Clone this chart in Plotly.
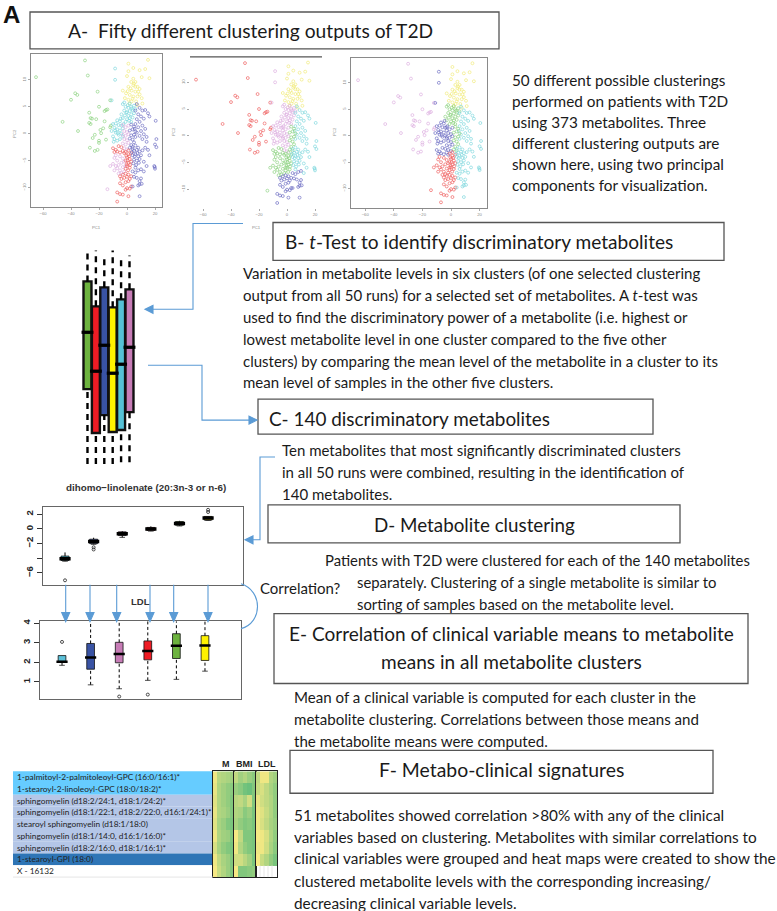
import plotly.graph_objects as go

W, H = 777, 911
RED, GREEN, BLUE, YELLOW, CYAN, PLUM = "#EE5A5A", "#88D17C", "#6666BF", "#F0EA72", "#78D5DC", "#DCACDF"

# ---- PCA scores (PC1, PC2) ----
FAR_LEFT = [(-65,10.5),(-30,13.6),(-28,10.8),(-40,6.3),(-37,7.5),(-35.5,7.2),(-21,7.8),(-46,2.2),(-35,0.5),(-20,5),
            (-27,3.9),(-12,6.2),(-15,4.4),(-16,4.2),(-14,4.5),(-26,2.9),(-25,2.8),(-27,2),(-26,1.8),(-22,2.7),(-16,2.3),
            (-11.5,1.5),(-17,1),(-19,0.7),(-18.5,0.1),(-23,-0.2),(-24.5,-0.8),(-20,-1.3),(-26.5,-2.6),(-23,-3.2),(-21,-3),
            (-20,-1.7),(-15,-1.1),(-12,1.2)]
TOP = [(1,13),(15,13.7),(4.5,12.2),(9,11.8),(1,11.6),(13,12),(0,10.7),(4.5,10.2),(10.5,10.5),(16,10.3),(6,9.6),(3,9.6),
       (-3,8),(1,8.7),(4.5,9),(7.5,8.7),(3.3,8),(6,7.8),(9,8.3),(-0.7,7.5),(2,7.2),(4.5,6.9),(7.5,6.9),(10.5,6.6),(1,6.3),
       (3.3,6),(6.5,6),(-1.5,6.6),(9,7.3),(0.5,7.9),(6,8.7),(4,6.5),(1.7,5.6),(7.5,5.3),(11,5.6),(5,9.3),(2.5,8.4),(8,7.8)]
OUTLIERS_TOP = [(-8.5,12.1),(-8.5,10),(-11,6.2)]
UPPER_MID = [(-3,5.5),(-1,5),(1,4.8),(3,5),(5,5.2),(-2,4.3),(0,4),(2,4.2),(4,4.4),(6,4.6),(-4,3.6),(-1.5,3.4),(1,3.3),(3,3.6),
             (5,3.8),(-3,2.9),(0,2.7),(2,2.9),(4,3),(-2,5.8),(2,5.6),(0.5,5.3),(3.5,4.7),(-0.5,3.9),(1.5,2.4),(-1,2.2),(3,2.2)]
LEFT_CENTER = [(-7,2.5),(-5,2.3),(-8,1.9),(-6,1.6),(-10,1.8),(-4,1.5),(-9,1.1),(-7,0.8),(-5,0.6),(-3,1),(-11,0.5),(-8,0.2),
               (-6,-0.2),(-10,-0.5),(-4,0),(-9,-1),(-7,-1.3),(-5,-1),(-3,-0.5),(-9.5,-1.5),(-8.5,0.6),(-6.5,0.1),(-2.5,1.8),(-4.5,2.8)]
RIGHT_CENTER = [(7,5.5),(9,4.8),(11,4.3),(13,4.4),(15,3.8),(6,4.3),(8,3.6),(10,3.2),(12,2.8),(7,2.7),(9,2.2),(6,1.8),(11,1.5),
                (8,1.2),(13,0.9),(5.5,0.9),(10,0.5),(7,0.2),(12,-0.1),(14,-0.6),(9,-0.4),(6,-0.6),(11,-1),(16,3.2)]
CENTER_L = [(-3,1.6),(-1,1.2),(1,1.5),(-2,0.5),(0,0.3),(-3,-0.2),(-1,-0.4),(1,-0.1),(-2,-1),(0,-1.2),(-3,-1.8),(-1,-2),(1,-1.7),
            (-2,-2.7),(0,-2.9)]
CENTER_R = [(3,1.7),(5,1.3),(2,0.6),(4,0.8),(6,0.4),(3,-0.3),(5,-0.2),(2,-0.9),(4,-1.1),(3,-2.1),(5,-1.6),(2,-2.6),(4,-2.8)]
LOWER_UP = [(-10,-2.7),(-8,-3),(-6,-2.3),(-4,-2.5),(-7,-3.3),(-5,-3.5),(-9,-3.4),(-3,-3.2),(-2,-3.6)]
LOWER_LOW = [(-12,-6),(-9,-4.5),(-7,-5),(-5,-4.2),(-3,-4.6),(-10,-5.6),(-8,-6),(-6,-5.8),(-4,-5.4),(-2,-5.2),(-9,-6.8),(-7,-6.4),
             (-5,-6.8),(-3,-6.2),(-1,-6),(-6,-7.4),(-4,-7.3),(-2,-7),(-8,-4),(-14,-10.3)]
CENTER_LOW = [(-1,-3.4),(1,-3.8),(3,-3.6),(0,-4.4),(2,-4.7),(-1,-5),(1,-5.4),(3,-5.2),(0,-6),(2,-6.3),(-1,-6.5),(1,-3.1),
              (-0.5,-4.1),(0.5,-5),(1.5,-4.2),(-0.2,-5.7),(0.8,-6.8),(2.2,-5.8)]
LOWER_RIGHT = [(4,-2.5),(6,-2.2),(8,-2.6),(5,-3.2),(7,-3),(9,-3.3),(11,-3.1),(4,-4),(6,-3.8),(8,-4.2),(10,-4),(5,-4.8),(7,-5),
               (9,-4.7),(4.5,-5.5),(6.5,-5.8),(8.5,-5.4),(12,-5.2),(3.5,-3.4),(5.5,-4.2),(7.5,-3.6),(6,-6.3)]
BOTTOM = [(-7,-10.9),(-5,-11.2),(-7,-12.6),(-3,-11.3),(1,-11.6),(-1,-10.4),(0,-10.1),(2,-10.2),(3,-9.8),(-3,-9.6),(-5,-9.2),(-1,-9),
          (1,-8.8),(-4,-8.4),(-2,-8.2),(0,-8),(2,-8.4),(-3,-7.6),(-1,-7.4),(1,-7.6),(3,-7.9),(-5,-7.9)]
LOW_RIGHT = [(4,-7),(6,-7.2),(8,-6.8),(10,-6.6),(5,-8),(7,-8.2),(9,-9.4),(10.5,-9.3),(8,-9.6),(9,-8.8),(10,-8.3),(4,-9.8),(9,-11.6)]
FAR_RIGHT = [(20.5,2.4),(21,-1),(20,-2),(21,-2.5),(19.5,-6),(20,-6.5),(19.8,-6.2),(15,-3),(14,-1.5),(13,-2.6),(16,-4),(14,-6),(12,-7)]

# cluster colour of each point group in panels 1, 2 and 3
SCATTER_GROUPS = [
    (FAR_LEFT, GREEN, RED, PLUM), (OUTLIERS_TOP, CYAN, PLUM, BLUE), (TOP, YELLOW, YELLOW, YELLOW),
    (UPPER_MID, CYAN, PLUM, GREEN), (LEFT_CENTER, CYAN, PLUM, BLUE), (RIGHT_CENTER, BLUE, CYAN, CYAN),
    (CENTER_L, PLUM, PLUM, BLUE), (CENTER_R, BLUE, GREEN, GREEN), (LOWER_UP, RED, GREEN, BLUE),
    (LOWER_LOW, PLUM, GREEN, RED), (CENTER_LOW, RED, GREEN, RED), (LOWER_RIGHT, BLUE, CYAN, CYAN),
    (BOTTOM, RED, BLUE, RED), (LOW_RIGHT, BLUE, BLUE, CYAN), (FAR_RIGHT, BLUE, CYAN, CYAN),
]

# ---- Stylised box plot (panel B) ----
B_COLORS = ["#6DB33F", "#EE1C25", "#3953A4", "#FFF200", "#55C1D6", "#C77CB6"]
B_Q1 = [-1.52, -3.28, -2.56, -3.24, -3.16, -2.44]
B_MED = [0.76, -0.8, 0.24, -0.88, -0.52, 0.16]
B_Q3 = [2.8, 1.8, 2.56, 1.76, 2.08, 2.48]
B_LOW = [-4.52, -4.52, -4.52, -4.52, -4.45, -4.45]
B_HIGH = [4.04, 4.04, 3.84, 4.04, 3.84, 3.84]

# ---- dihomo-linolenate box plot ----
D_COLORS = ["#4FB7C9", "#3953A4", "#C77CB6", "#EE1C25", "#6DB33F", "#FFF200"]
D_Q1 = [-4.3, -2.0, -0.9, -0.2, 0.5, 1.2]
D_MED = [-4.05, -1.7, -0.65, 0.0, 0.75, 1.5]
D_Q3 = [-3.7, -1.4, -0.4, 0.2, 1.0, 1.7]
D_LOW = [-4.4, -2.1, -1.15, -0.3, 0.4, 1.15]
D_HIGH = [-3.2, -1.2, -0.3, 0.35, 1.1, 1.75]
D_OUT_X = [1, 2, 2, 6, 6]
D_OUT_Y = [-7.0, -2.5, -2.8, 2.3, 2.6]

# ---- LDL box plot ----
L_COLORS = ["#5BC0D8", "#3953A4", "#C77CB6", "#EE1C25", "#6DB33F", "#FFF200"]
L_Q1 = [2.0, 1.65, 1.98, 2.13, 2.2, 2.1]
L_MED = [2.03, 2.25, 2.43, 2.58, 2.85, 2.87]
L_Q3 = [2.35, 2.97, 3.03, 3.1, 3.47, 3.37]
L_LOW = [1.85, 0.85, 0.65, 1.08, 1.13, 1.55]
L_HIGH = [2.35, 4.1, 4.1, 4.1, 4.1, 4.1]
L_OUT_X = [1, 3, 4]
L_OUT_Y = [3.05, 0.25, 0.35]

# ---- Heat map ----
ROWS = ["1-palmitoyl-2-palmitoleoyl-GPC (16:0/16:1)*", "1-stearoyl-2-linoleoyl-GPC (18:0/18:2)*",
        "sphingomyelin (d18:2/24:1, d18:1/24:2)*", "sphingomyelin (d18:1/22:1, d18:2/22:0, d16:1/24:1)*",
        "stearoyl sphingomyelin (d18:1/18:0)", "sphingomyelin (d18:1/14:0, d16:1/16:0)*",
        "sphingomyelin (d18:2/16:0, d18:1/16:1)*", "1-stearoyl-GPI (18:0)", "X - 16132"]
ROW_BG = ["#66CCFF", "#66CCFF", "#B4C6E7", "#B4C6E7", "#B4C6E7", "#B4C6E7", "#B4C6E7", "#2E75B6", "#FFFFFF"]
HEAT_M = [[.1,.45,.5,.55,.6],[.15,.5,.6,.7,.75],[.2,.5,.6,.7,.8],[.15,.5,.55,.65,.8],[.2,.55,.65,.8,.85],
          [.1,.5,.6,.65,.8],[.25,.55,.7,.8,.85],[.1,.4,.55,.65,.8],[.05,.35,.5,.65,.8]]
HEAT_BMI = [[.4,.6,.5,.65,.75],[.65,.75,.9,.95,.8],[.45,.4,.55,.3,.8],[.5,.55,.75,.65,.85],[.55,.7,.8,.75,.85],
            [.05,.4,.8,.8,.85],[.1,.5,.7,.8,.85],[.3,.3,.45,.6,.85],[.05,.8,.8,.75,.7]]
HEAT_LDL = [[.4,.1,.1,.5,.6],[.35,.25,.4,.55,.7],[.15,.3,.4,.5,.7],[.1,.2,.35,.5,.7],[.1,.25,.4,.55,.65],
            [.05,.1,.25,.5,.7],[.1,.1,.3,.55,.75],[.05,.35,.5,.7,.85],[None]*5]

FONT = "Lato"
fig = go.Figure()
layout_axes = {}
TEXTS, SHAPES = [], []


def fx(x): return x / W
def fy(y): return 1 - y / H


def axes(i, l, r, t, b, xr, yr, **kw):
    xa = dict(domain=[fx(l), fx(r)], anchor=f"y{i}", range=xr, zeroline=False, showgrid=False)
    ya = dict(domain=[fy(b), fy(t)], anchor=f"x{i}", range=yr, zeroline=False, showgrid=False)
    xa.update(kw.get("x", {})); ya.update(kw.get("y", {}))
    layout_axes[f"xaxis{i}"] = xa
    layout_axes[f"yaxis{i}"] = ya


def text(x, y, s, size=15, anchor="left", color="#1a1a1a", fam=FONT, bold=False, angle=0):
    if bold: s = f"<b>{s}</b>"
    if anchor == "left": x -= 2
    TEXTS.append(dict(x=fx(x), y=fy(y), xref="paper", yref="paper", text=s, showarrow=False, xanchor=anchor,
                      yanchor="middle", align=anchor, textangle=angle, font=dict(family=fam, size=size, color=color)))


def rect(l, t, r, b, line="#555555", lw=1.3, fill=None, layer="above"):
    SHAPES.append(dict(type="rect", xref="paper", yref="paper", x0=fx(l), x1=fx(r), y0=fy(b), y1=fy(t),
                       line=dict(color=line, width=lw), fillcolor=fill, layer=layer))


ARROW = "#5B9BD5"


def poly(pts, fill=False, lw=1.1):
    d = "M " + " L ".join(f"{fx(x):.5f} {fy(y):.5f}" for x, y in pts) + (" Z" if fill else "")
    SHAPES.append(dict(type="path", xref="paper", yref="paper", path=d,
                       line=dict(color=ARROW, width=lw), fillcolor=ARROW if fill else None))


# ---- scatter panels ----
tick_small = dict(size=4.2, color="#8a8a8a", family="Liberation Sans")
panels = [
    (1, 31, 162, 52, 205, 127, 1.40, 132, 5.40, True),
    (2, 190, 322, 55, 206, 287, 1.40, 134, 5.35, False),
    (3, 351, 487, 56, 206, 451, 1.43, 134, 5.30, True),
]
for i, l, r, t, b, x0, sx, y0, sy, frame_on in panels:
    xr = [(l - x0) / sx, (r - x0) / sx]
    yr = [(y0 - b) / sy, (y0 - t) / sy]
    axes(i, l, r, t, b, xr, yr,
         x=dict(tickvals=[-60, -40, -20, 0, 20], ticks="outside", ticklen=2, tickwidth=0.5, tickcolor="#aaaaaa",
                tickfont=tick_small, showline=frame_on, mirror=frame_on, linecolor="#8a8a8a", linewidth=1.2),
         y=dict(tickvals=[-10, -5, 0, 5, 10], ticks="outside", ticklen=2, tickwidth=0.5, tickcolor="#aaaaaa",
                tickfont=tick_small, tickangle=-90, showline=frame_on, mirror=frame_on, linecolor="#8a8a8a", linewidth=1.2))
    for grp in SCATTER_GROUPS:
        fig.add_trace(go.Scatter(x=[p[0] for p in grp[0]], y=[p[1] for p in grp[0]], mode="markers", xaxis=f"x{i}",
                                 yaxis=f"y{i}", showlegend=False, cliponaxis=True,
                                 marker=dict(symbol="circle-open", size=2.9, color=grp[i], line=dict(width=0.65))))
SHAPES.append(dict(type="line", xref="paper", yref="paper", x0=fx(190), x1=fx(322), y0=fy(55), y1=fy(55),
                   line=dict(color="#555555", width=1.2)))
text(96, 226, "PC1", 4.2, "center", "#8a8a8a", "Liberation Sans")
text(256, 226, "PC1", 4.2, "center", "#8a8a8a", "Liberation Sans")
text(15, 132, "PC2", 4.2, "center", "#8a8a8a", "Liberation Sans", angle=-90)
text(174, 130, "PC2", 4.2, "center", "#8a8a8a", "Liberation Sans", angle=-90)
text(335, 130, "PC2", 4.2, "center", "#8a8a8a", "Liberation Sans", angle=-90)


def boxes(i, colors, q1, med, q3, lo, hi, width, lw, medw, medsize, dash, capsize=0):
    xa, ya = f"x{i}", f"y{i}"
    for k, c in enumerate(colors):
        xpos = k + 1
        fig.add_trace(go.Scatter(x=[xpos, xpos], y=[q3[k], hi[k]], mode="lines", xaxis=xa, yaxis=ya, showlegend=False,
                                 line=dict(color="black", width=lw, dash=dash)))
        fig.add_trace(go.Scatter(x=[xpos, xpos], y=[lo[k], q1[k]], mode="lines", xaxis=xa, yaxis=ya, showlegend=False,
                                 line=dict(color="black", width=lw, dash=dash)))
        fig.add_trace(go.Box(x=[xpos], q1=[q1[k]], median=[med[k]], q3=[q3[k]], lowerfence=[q1[k]], upperfence=[q3[k]],
                             width=width, xaxis=xa, yaxis=ya, showlegend=False, fillcolor=c, whiskerwidth=0,
                             line=dict(color="#111111", width=lw if lw > 1.5 else 0.8)))
        fig.add_trace(go.Scatter(x=[xpos], y=[med[k]], mode="markers", xaxis=xa, yaxis=ya, showlegend=False,
                                 marker=dict(symbol="line-ew-open", size=medsize, color="black",
                                             line=dict(color="black", width=medw))))
        if capsize:
            fig.add_trace(go.Scatter(x=[xpos], y=[lo[k]], mode="markers", xaxis=xa, yaxis=ya, showlegend=False,
                                     marker=dict(symbol="line-ew-open", size=capsize, color="#222222",
                                                 line=dict(color="#222222", width=0.8))))


def outliers(i, xs, ys):
    fig.add_trace(go.Scatter(x=xs, y=ys, mode="markers", xaxis=f"x{i}", yaxis=f"y{i}", showlegend=False,
                             marker=dict(symbol="circle-open", size=3, color="#222222", line=dict(width=0.8))))


hidden = dict(visible=False)
# panel B
axes(4, 70, 150, 240, 470, [-1.08, 8.44], [-4.8, 4.4], x=hidden, y=hidden)
boxes(4, B_COLORS, B_Q1, B_MED, B_Q3, B_LOW, B_HIGH, 0.95, 2.4, 3.2, 8.5, "6px,5px")

tfont = dict(size=9.5, color="#222222", family="Liberation Sans")
frame = dict(showline=True, mirror=True, linecolor="#666666", linewidth=1.2)
# dihomo
axes(5, 43, 243, 506, 584, [0.23, 7.22], [-7.6, 3.0],
     x=dict(showticklabels=False, ticks="", **frame),
     y=dict(tickvals=[-6, -4, -2, 0, 2], ticktext=["<b>−6</b>", "", "<b>−2</b>", "<b>0</b>", "<b>2</b>"], ticks="outside",
            ticklen=5, tickcolor="#333333", tickangle=-90, tickfont=tfont, **frame))
boxes(5, D_COLORS, D_Q1, D_MED, D_Q3, D_LOW, D_HIGH, 0.28, 1.0, 3.5, 8, "solid", 4)
outliers(5, D_OUT_X, D_OUT_Y)
# LDL
axes(6, 40, 241, 620, 699, [0.23, 7.26], [0.1, 4.14],
     x=dict(showticklabels=False, ticks="", **frame),
     y=dict(tickvals=[1, 2, 3, 4], ticktext=["<b>1</b>", "<b>2</b>", "<b>3</b>", "<b>4</b>"], ticks="outside",
            ticklen=5, tickcolor="#333333", tickangle=-90, tickfont=tfont, **frame))
boxes(6, L_COLORS, L_Q1, L_MED, L_Q3, L_LOW, L_HIGH, 0.27, 1.0, 2.5, 8, "3px,2.5px", 4)
outliers(6, L_OUT_X, L_OUT_Y)
text(146, 487, "dihomo−linolenate (20:3n-3 or n-6)", 9.8, "center", "#333333", "Liberation Sans", True)
text(140, 601, "LDL", 9.5, "center", "#333333", "Liberation Sans", True)

# heat maps
hm_scale = [[0, "#FFEB84"], [0.5, "#B1D580"], [1, "#63BE7B"]]
hm_frame = dict(showticklabels=False, ticks="", showline=True, mirror=True, linecolor="#222222", linewidth=1)
for i, (z, l, r, lab, lx) in enumerate([(HEAT_M, 213, 233.5, "M", 225.5), (HEAT_BMI, 233.5, 256, "BMI", 244.5),
                                        (HEAT_LDL, 256, 277, "LDL", 266.5)]):
    axes(7 + i, l, r, 771, 877, [-0.5, 4.5], [8.5, -0.5], x=hm_frame, y=hm_frame)
    fig.add_trace(go.Heatmap(z=z, xaxis=f"x{7+i}", yaxis=f"y{7+i}", colorscale=hm_scale, zmin=0, zmax=1, showscale=False))
    text(lx, 764, lab, 9, "center", "#222222", "Liberation Sans", True)

row_h = (877 - 771) / 9
for k, (name, bg) in enumerate(zip(ROWS, ROW_BG)):
    t = 771 + k * row_h
    rect(13, t, 213, t + row_h, line=bg, lw=0, fill=bg, layer="below")
    text(17, t + row_h / 2, name, 8.3, color="#222222")
SHAPES.append(dict(type="line", xref="paper", yref="paper", x0=fx(13), x1=fx(213), y0=fy(877), y1=fy(877),
                   line=dict(color="#dddddd", width=0.8)))
for gx in [260, 264, 268, 272]:
    SHAPES.append(dict(type="line", xref="paper", yref="paper", x0=fx(gx), x1=fx(gx), y0=fy(877), y1=fy(865.2),
                       line=dict(color="#dddddd", width=0.7)))

# text boxes
rect(30, 10, 499, 47)
rect(273, 221, 724, 259)
rect(258, 398, 653, 433)
rect(268, 504, 680, 542)
rect(274, 613, 748, 683)
rect(290, 750, 713, 793)
text(68, 29, "A-  Fifty different clustering outputs of T2D", 19.2)
text(285, 240, "B- <i>t</i>-Test to identify discriminatory metabolites", 19.1)
text(269, 417, "C- 140 discriminatory metabolites", 18.9)
text(474, 524, "D- Metabolite clustering", 18.8, "center")
text(511, 633, "E- Correlation of clinical variable means to metabolite", 19.05, "center")
text(511, 661, "means in all metabolite clusters", 19.05, "center")
text(501, 769, "F- Metabo-clinical signatures", 19.4, "center")
text(3, 13, "A", 24, color="#111111", fam="Liberation Sans", bold=True)

PARA = 15
for y, s in zip([78, 99, 120, 141, 162, 183],
                ["50 different possible clusterings", "performed on patients with T2D", "using 373 metabolites. Three",
                 "different clustering outputs are", "shown here, using two principal", "components for visualization."]):
    text(512, y, s, 15.3)
for y, s in zip([272, 294, 316, 338, 360, 381],
                ["Variation in metabolite levels in six clusters (of one selected clustering",
                 "output from all 50 runs) for a selected set of metabolites. A <i>t</i>-test was",
                 "used to find the discriminatory power of a metabolite (i.e. highest or",
                 "lowest metabolite level in one cluster compared to the five other",
                 "clusters) by comparing the mean level of the metabolite in a cluster to its",
                 "mean level of samples in the other five clusters."]):
    text(243, y, s, PARA)
for y, s in zip([449, 471, 493],
                ["Ten metabolites that most significantly discriminated clusters",
                 "in all 50 runs were combined, resulting in the identification of", "140 metabolites."]):
    text(282, y, s, PARA)
text(325, 559, "Patients with T2D were clustered for each of the 140 metabolites", 14.85)
text(357, 581, "separately. Clustering of a single metabolite is similar to", 14.85)
text(357, 603, "sorting of samples based on the metabolite level.", 14.85)
text(260, 587, "Correlation?", 15)
for y, s in zip([697, 719, 741],
                ["Mean of a clinical variable is computed for each cluster in the",
                 "metabolite clustering. Correlations between those means and",
                 "the metabolite means were computed."]):
    text(294, y, s, 15.1)
for y, s in zip([815, 837, 858, 881, 903],
                ["51 metabolites showed correlation >80% with any of the clinical",
                 "variables based on clustering. Metabolites with similar correlations to",
                 "clinical variables were grouped and heat maps were created to show the",
                 "clustered metabolite levels with the corresponding increasing/",
                 "decreasing clinical variable levels."]):
    text(294, y, s, 15.35)

# connectors
poly([(243, 222), (193, 222), (193, 308), (150, 308)])
poly([(145, 308), (153, 304), (153, 312)], fill=True)
poly([(148, 364), (202, 364), (202, 419), (250, 419)])
poly([(257, 419), (249, 415), (249, 423)], fill=True)
poly([(275, 456), (260, 456), (260, 539), (250, 539)])
poly([(245, 539), (253, 535), (253, 543)], fill=True)
for ax_ in [65.7, 90, 116.7, 150, 173.7, 208]:
    poly([(ax_, 584), (ax_, 613)])
    poly([(ax_ - 4, 612), (ax_ + 4, 612), (ax_, 621)], fill=True)
SHAPES.append(dict(type="path", xref="paper", yref="paper", line=dict(color=ARROW, width=1.1),
                   path=f"M {fx(241):.5f} {fy(583):.5f} C {fx(263):.5f} {fy(590):.5f} {fx(263):.5f} {fy(622):.5f} {fx(241):.5f} {fy(628):.5f}"))

fig.update_layout(width=W, height=H, margin=dict(l=0, r=0, t=0, b=0), paper_bgcolor="white", plot_bgcolor="rgba(0,0,0,0)",
                  showlegend=False, annotations=TEXTS, shapes=SHAPES, **layout_axes)
fig.write_html("out.html", post_script="document.body.style.margin='0';", config=dict(displayModeBar=False))
